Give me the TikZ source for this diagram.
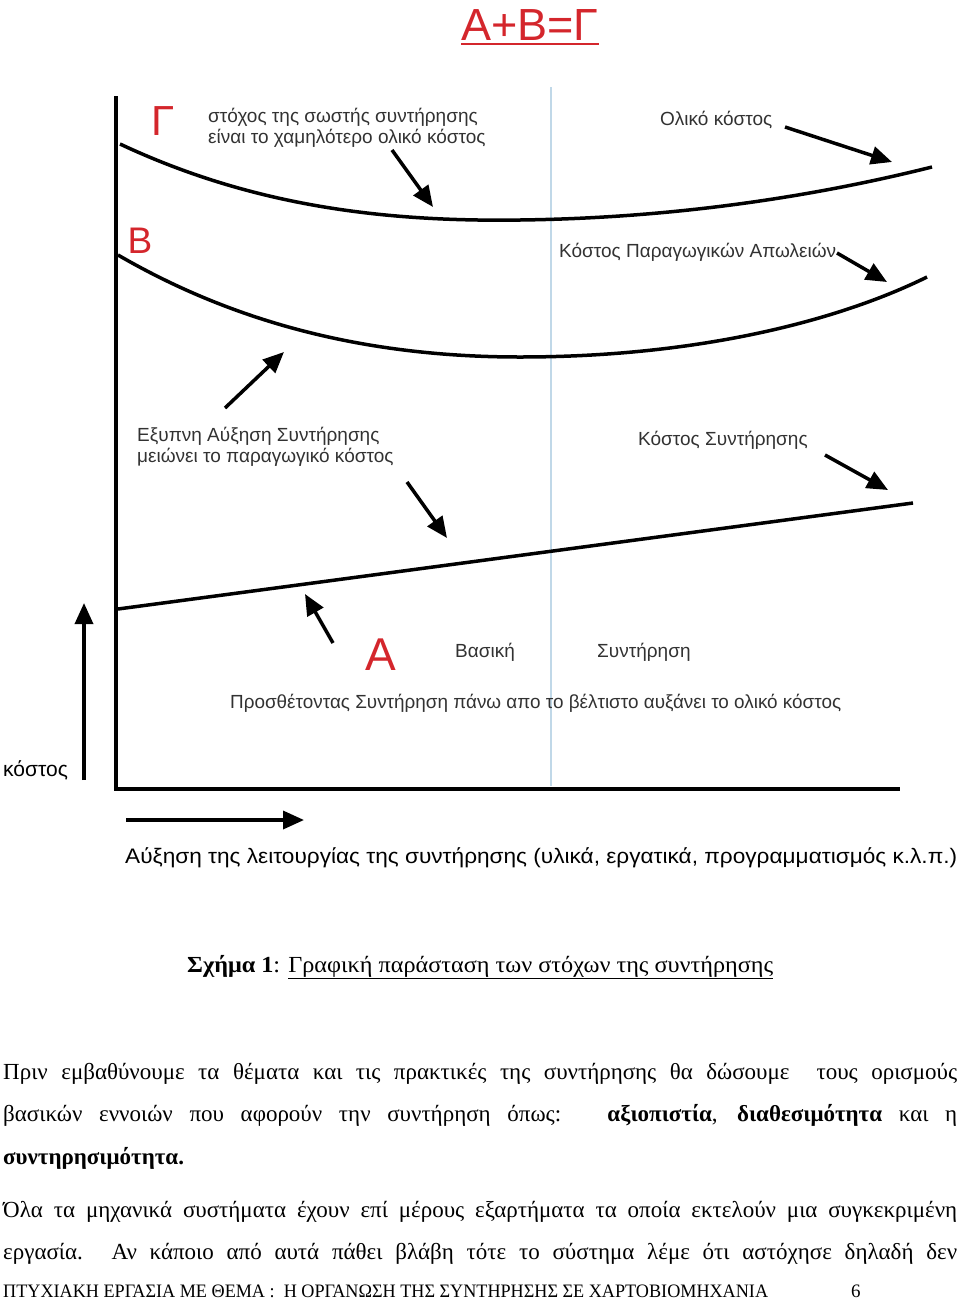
\documentclass[tikz,border=0pt]{standalone}
\usepackage{fontspec}
\setmainfont{Liberation Serif}
\setsansfont{Liberation Sans}
\usepackage{graphicx}
\usetikzlibrary{arrows.meta,positioning}

\definecolor{letterred}{RGB}{212,38,44}
\definecolor{guideblue}{RGB}{192,216,232}
\definecolor{labelgray}{RGB}{50,50,50}

% keep the width of a text as in the scan, not its height
\newcommand{\fitto}[2]{\resizebox{#1}{\height}{#2}}

\tikzset{
  costcurve/.style={line width=3.5pt},
  pointer/.style={line width=3.5pt, -{Triangle[length=21pt,width=18pt]}},
  axisline/.style={line width=4pt},
  chartlabel/.style={font=\sffamily\fontsize{19}{22}\selectfont, text=labelgray, inner sep=0pt, anchor=base west},
  bigletter/.style={font=\sffamily\fontsize{42}{42}\selectfont, text=letterred, inner sep=0pt, anchor=base},
  bodyline/.style={font=\fontsize{23}{23}\selectfont, inner sep=0pt, anchor=base west},
}

\begin{document}
\begin{tikzpicture}[x=1pt, y=-1pt]
    \useasboundingbox (0,0) rectangle (960,1301);

    % Title with its underline
    \node[bigletter, font=\sffamily\fontsize{45}{45}\selectfont] (title) at (530,40) {A+B=Γ};
    \draw[letterred, line width=2pt] (461,44) -- (599,44);

    % Guide line between the two halves
    \draw[guideblue, line width=1.5pt] (551,87) -- (551,786);

    % Axes
    \draw[axisline] (116,96) -- (116,789) -- (900,789);

    % The three cost curves
    \draw[costcurve] (120,144) .. controls (250,205) and (380,222) .. (520,220)
                               .. controls (680,218) and (820,195) .. (932,167);
    \draw[costcurve] (118,255) .. controls (230,320) and (360,357) .. (520,357)
                               .. controls (700,357) and (840,320) .. (927,277);
    \draw[costcurve] (118,609) -- (913,503);

    % Red letters of the curves
    \node[bigletter] (G) at (163,135) {Γ};
    \node[bigletter, font=\sffamily\fontsize{37}{37}\selectfont] (B) at (140,253) {B};
    \node[bigletter, font=\sffamily\fontsize{46}{46}\selectfont] (A) at (381,670) {A};

    % Labels
    \node[chartlabel] (goal1) at (208,122) {στόχος της σωστής συντήρησης};
    \node[chartlabel] (goal2) at (208,143) {είναι το χαμηλότερο ολικό κόστος};
    \node[chartlabel] (total) at (660,125) {Ολικό κόστος};
    \node[chartlabel] (loss) at (559,257) {Κόστος Παραγωγικών Απωλειών};
    \node[chartlabel] (smart1) at (137,441) {Εξυπνη Αύξηση Συντήρησης};
    \node[chartlabel] (smart2) at (137,462) {μειώνει το παραγωγικό κόστος};
    \node[chartlabel] (maint) at (638,445) {Κόστος Συντήρησης};
    \node[chartlabel] (basic) at (455,657) {Βασική};
    \node[chartlabel] (maint2) at (597,657) {Συντήρηση};
    \node[chartlabel] (extra) at (230,708) {\fitto{611pt}{Προσθέτοντας Συντήρηση πάνω απο το βέλτιστο αυξάνει το ολικό κόστος}};
    \node[chartlabel, text=black, font=\sffamily\fontsize{21}{21}\selectfont] (cost) at (3,776) {κόστος};
    \node[chartlabel, text=black, font=\sffamily\fontsize{21}{21}\selectfont] (work) at (125,863) {\fitto{832pt}{Αύξηση της λειτουργίας της συντήρησης (υλικά, εργατικά, προγραμματισμός κ.λ.π.)}};

    % Ends of the pointers
    \coordinate (goalS) at (392,150);   \coordinate (goalE) at (433,207);
    \coordinate (totalS) at (785,127);  \coordinate (totalE) at (892,162);
    \coordinate (lossS) at (837,253);   \coordinate (lossE) at (887,282);
    \coordinate (smartS) at (225,408);  \coordinate (smartE) at (284,352);
    \coordinate (downS) at (407,482);   \coordinate (downE) at (447,538);
    \coordinate (maintS) at (825,455);  \coordinate (maintE) at (888,490);
    \coordinate (extraS) at (333,643);  \coordinate (extraE) at (305,594);
    \coordinate (costS) at (84,780);    \coordinate (costE) at (84,603);
    \coordinate (workS) at (126,820);   \coordinate (workE) at (304,820);

    % Pointers
    \foreach \p in {goal,total,loss,smart,down,maint,extra,cost,work}
        \draw[pointer] (\p S) -- (\p E);

    % Caption and text of the page
    \node[bodyline] (caption) at (187,972) {\fitto{586pt}{\textbf{Σχήμα 1}: \underline{Γραφική παράσταση των στόχων της συντήρησης}}};
    \node[bodyline] (line1) at (3,1079) {\makebox[954pt][s]{Πριν εμβαθύνουμε τα θέματα και τις πρακτικές της συντήρησης θα δώσουμε \ τους ορισμούς}};
    \node[bodyline] (line2) at (3,1121) {\makebox[954pt][s]{βασικών εννοιών που αφορούν την συντήρηση όπως: \ \textbf{αξιοπιστία}, \textbf{διαθεσιμότητα} και η}};
    \node[bodyline] (line3) at (3,1164) {\textbf{συντηρησιμότητα.}};
    \node[bodyline] (line4) at (3,1217) {\makebox[954pt][s]{Όλα τα μηχανικά συστήματα έχουν επί μέρους εξαρτήματα τα οποία εκτελούν μια συγκεκριμένη}};
    \node[bodyline] (line5) at (3,1259) {\makebox[954pt][s]{εργασία. Αν κάποιο από αυτά πάθει βλάβη τότε το σύστημα λέμε ότι αστόχησε δηλαδή δεν}};

    % Footer
    \node[bodyline, font=\fontsize{19}{19}\selectfont] (footer) at (3,1297) {\fitto{765pt}{ΠΤΥΧΙΑΚΗ ΕΡΓΑΣΙΑ ΜΕ ΘΕΜΑ : \ Η ΟΡΓΑΝΩΣΗ ΤΗΣ ΣΥΝΤΗΡΗΣΗΣ ΣΕ ΧΑΡΤΟΒΙΟΜΗΧΑΝΙΑ}};
    \node[bodyline, font=\fontsize{19}{19}\selectfont] (page) at (851,1297) {6};
\end{tikzpicture}
\end{document}
